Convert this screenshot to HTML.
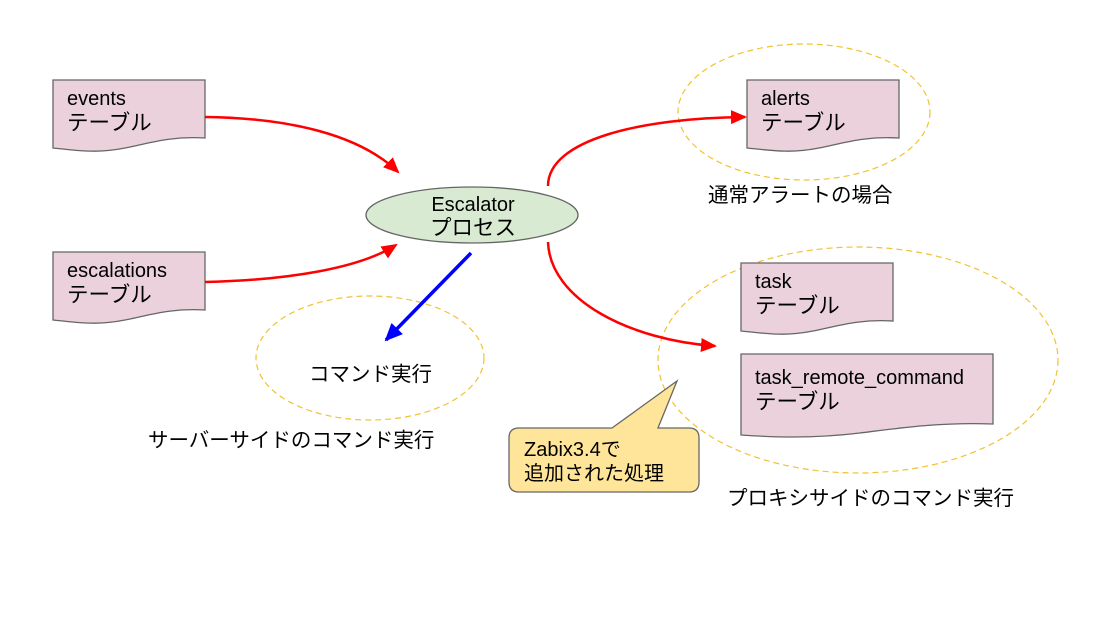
<!DOCTYPE html>
<html><head><meta charset="utf-8"><style>
html,body{margin:0;padding:0;background:#fff;}
svg{display:block;}
text{font-family:"Liberation Sans","Noto Sans CJK JP",sans-serif;fill:#000;}
</style></head><body>
<svg width="1095" height="630" viewBox="0 0 1095 630" xmlns="http://www.w3.org/2000/svg">
<defs>
<marker id="ar" markerWidth="16" markerHeight="14" refX="14" refY="7" orient="auto" markerUnits="userSpaceOnUse"><path d="M0,0 L16,7 L0,14 z" fill="#f00"/></marker>
<marker id="ab" markerWidth="18" markerHeight="16" refX="16" refY="8" orient="auto" markerUnits="userSpaceOnUse"><path d="M0,0 L18,8 L0,16 z" fill="#00f"/></marker>
</defs>
<ellipse cx="804" cy="112" rx="126" ry="68" fill="none" stroke="#f1c232" stroke-dasharray="6,4" stroke-width="1.2"/>
<ellipse cx="370" cy="358" rx="114" ry="62" fill="none" stroke="#f1c232" stroke-dasharray="6,4" stroke-width="1.2"/>
<ellipse cx="858" cy="360" rx="200" ry="113" fill="none" stroke="#f1c232" stroke-dasharray="6,4" stroke-width="1.2"/>
<path d="M53,80 H205 V138 C170,136 150,143 125,148 C95,154 75,150 53,148 Z" fill="#ead1dc" stroke="#666" stroke-width="1.3"/>
<text x="67" y="105" font-size="20">events</text><text x="67" y="130" font-size="21.5">テーブル</text>
<path d="M53,252 H205 V310 C170,308 150,315 125,320 C95,326 75,322 53,320 Z" fill="#ead1dc" stroke="#666" stroke-width="1.3"/>
<text x="67" y="277" font-size="20">escalations</text><text x="67" y="302" font-size="21.5">テーブル</text>
<path d="M747,80 H899 V138 C864,136 844,143 819,148 C789,154 769,150 747,148 Z" fill="#ead1dc" stroke="#666" stroke-width="1.3"/>
<text x="761" y="105" font-size="20">alerts</text><text x="761" y="130" font-size="21.5">テーブル</text>
<path d="M741,263 H893 V321 C858,319 838,326 813,331 C783,337 763,333 741,331 Z" fill="#ead1dc" stroke="#666" stroke-width="1.3"/>
<text x="755" y="288" font-size="20">task</text><text x="755" y="313" font-size="21.5">テーブル</text>
<path d="M741,354 H993 V424 C940,422 900,428 860,433 C810,439 770,437 741,435 Z" fill="#ead1dc" stroke="#666" stroke-width="1.3"/>
<text x="755" y="384" font-size="20">task_remote_command</text><text x="755" y="409" font-size="21.5">テーブル</text>
<ellipse cx="472" cy="215" rx="106" ry="28" fill="#d9ead3" stroke="#666" stroke-width="1.3"/>
<text x="473" y="211" font-size="20" text-anchor="middle">Escalator</text>
<text x="473" y="235" font-size="21.5" text-anchor="middle">プロセス</text>
<path d="M205,117 C290,118 360,135 398,172" fill="none" stroke="#f00" stroke-width="2.5" marker-end="url(#ar)"/>
<path d="M205,282 C290,280 360,268 396,245" fill="none" stroke="#f00" stroke-width="2.5" marker-end="url(#ar)"/>
<path d="M548,186 C548,140 640,118 745,117" fill="none" stroke="#f00" stroke-width="2.5" marker-end="url(#ar)"/>
<path d="M548,242 C550,300 630,340 715,346" fill="none" stroke="#f00" stroke-width="2.5" marker-end="url(#ar)"/>
<path d="M471,253 L386,340" fill="none" stroke="#00f" stroke-width="3.5" marker-end="url(#ab)"/>
<text x="708" y="202" font-size="20.5">通常アラートの場合</text>
<text x="309" y="381" font-size="20.5">コマンド実行</text>
<text x="148" y="447" font-size="20.5">サーバーサイドのコマンド実行</text>
<text x="727" y="505" font-size="20.5">プロキシサイドのコマンド実行</text>
<path d="M519,428 H612 L677,381 L658,428 H689 Q699,428 699,438 V482 Q699,492 689,492 H519 Q509,492 509,482 V438 Q509,428 519,428 Z" fill="#ffe599" stroke="#666" stroke-width="1.3"/>
<text x="524" y="456" font-size="20">Zabix3.4で</text>
<text x="524" y="480" font-size="20">追加された処理</text>
</svg>
</body></html>
